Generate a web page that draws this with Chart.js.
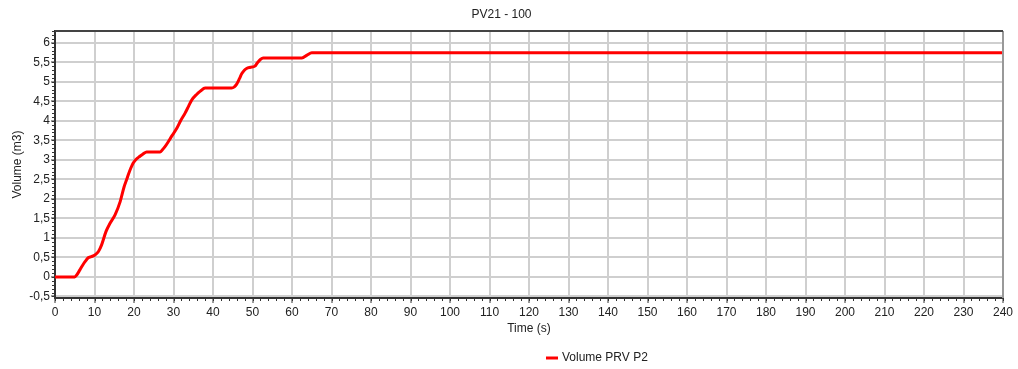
<!DOCTYPE html>
<html>
<head>
<meta charset="utf-8">
<script src="https://cdn.jsdelivr.net/npm/chart.js@4"></script>
<style>
  html, body { margin: 0; padding: 0; background: #fff; }
  #wrap { width: 1018px; height: 369px; }
</style>
</head>
<body>
<div id="wrap"><canvas id="myChart"></canvas></div>
<script>
const titleText = 'PV21 - 100';
const seriesLabel = 'Volume PRV P2';
const times = [0, 5, 5.5, 6.3, 7, 7.6, 8.4, 9.2, 10.1, 11, 11.8, 12.9, 13.9, 15.2, 16.5, 17.5, 18.1, 18.6, 19.2, 19.8,
  20.5, 21.5, 22.3, 23.2, 26.6, 27.2, 27.8, 28.6, 29.5, 30.8, 31.8, 32.9, 33.8, 34.6, 35.9, 36.8, 38, 44.7, 45.4, 46,
  46.7, 47.3, 48, 48.5, 49.5, 50.6, 51.2, 52, 52.7, 62.5, 63.8, 65, 240];
const volumes = [0, 0, 0.05, 0.18, 0.3, 0.39, 0.49, 0.52, 0.56, 0.65, 0.82, 1.16, 1.37, 1.59, 1.93, 2.31, 2.48, 2.63, 2.79, 2.92,
  3.01, 3.09, 3.15, 3.2, 3.2, 3.26, 3.33, 3.45, 3.6, 3.8, 4.0, 4.19, 4.37, 4.53, 4.68, 4.76, 4.84, 4.84, 4.87, 4.94,
  5.08, 5.21, 5.3, 5.34, 5.37, 5.4, 5.48, 5.57, 5.61, 5.61, 5.68, 5.74, 5.74];
const xTicks = [0, 10, 20, 30, 40, 50, 60, 70, 80, 90, 100, 110, 120, 130, 140, 150, 160, 170, 180, 190, 200, 210, 220, 230, 240];
const yTicks = [-0.5, 0, 0.5, 1, 1.5, 2, 2.5, 3, 3.5, 4, 4.5, 5, 5.5, 6];

const font = { family: "'Liberation Sans', Arial, sans-serif", size: 12 };

// frame on top/right + small minor tick marks, plus the legend below the axis title
const extras = {
  id: 'extras',
  afterDraw(chart) {
    const ctx = chart.ctx;
    const a = chart.chartArea;
    const xs = chart.scales.x, ys = chart.scales.y;
    ctx.save();
    ctx.lineWidth = 2;
    ctx.strokeStyle = '#999';
    ctx.beginPath(); ctx.moveTo(a.right, a.top); ctx.lineTo(a.right, a.bottom); ctx.stroke();
    ctx.strokeStyle = '#444';
    ctx.beginPath(); ctx.moveTo(a.left, a.top); ctx.lineTo(a.right, a.top); ctx.stroke();

    ctx.lineWidth = 1;
    ctx.strokeStyle = '#333';
    for (let i = -5; i <= 63; i++) {
      const py = Math.round(ys.getPixelForValue(i / 10)) + 0.5;
      ctx.beginPath(); ctx.moveTo(a.left - 3, py); ctx.lineTo(a.left, py); ctx.stroke();
    }
    for (let t = 0; t <= 240; t += 2) {
      const px = Math.round(xs.getPixelForValue(t)) + 0.5;
      ctx.beginPath(); ctx.moveTo(px, a.bottom); ctx.lineTo(px, a.bottom + 3); ctx.stroke();
    }

    const ds = chart.data.datasets[0];
    const ly = 358;
    ctx.strokeStyle = ds.borderColor;
    ctx.lineWidth = 3;
    ctx.beginPath(); ctx.moveTo(546, ly); ctx.lineTo(558, ly); ctx.stroke();
    ctx.fillStyle = '#222';
    ctx.font = font.size + 'px ' + font.family;
    ctx.textBaseline = 'middle';
    ctx.fillText(ds.label, 562, ly);
    ctx.restore();
  }
};

new Chart(document.getElementById('myChart'), {
  type: 'line',
  data: {
    datasets: [{
      label: seriesLabel,
      data: times.map((t, i) => ({ x: t, y: volumes[i] })),
      borderColor: '#ff0000',
      borderWidth: 3,
      pointRadius: 0,
      cubicInterpolationMode: 'monotone',
      fill: false
    }]
  },
  plugins: [extras],
  options: {
    responsive: true,
    maintainAspectRatio: false,
    animation: false,
    layout: { padding: { top: 0, right: 15, bottom: 29, left: 0 } },
    plugins: {
      legend: { display: false },
      tooltip: { enabled: false },
      title: {
        display: true,
        text: titleText,
        color: '#222',
        font: { ...font, weight: 'normal' },
        padding: { top: 7, bottom: 9.6 }
      }
    },
    scales: {
      x: {
        type: 'linear',
        min: 0,
        max: 240,
        afterFit: s => { s.height = 42; },
        afterBuildTicks: s => { s.ticks = xTicks.map(v => ({ value: v })); },
        ticks: { color: '#222', font, padding: 2, maxRotation: 0, autoSkip: false },
        grid: { color: '#cfcfcf', lineWidth: 2, tickLength: 5, tickColor: '#333', tickWidth: 1 },
        border: { color: '#333', width: 2 },
        title: { display: true, text: 'Time (s)', color: '#222', font, padding: { top: 0, bottom: 4 } }
      },
      y: {
        type: 'linear',
        min: -0.54,
        max: 6.3,
        afterFit: s => { s.width = 55; },
        afterBuildTicks: s => { s.ticks = yTicks.map(v => ({ value: v })); },
        ticks: {
          color: '#222', font, padding: 1,
          callback: v => String(v).replace('.', ',')
        },
        grid: { color: '#cfcfcf', lineWidth: 2, tickLength: 4, tickColor: '#333', tickWidth: 1 },
        border: { color: '#333', width: 2 },
        title: { display: true, text: 'Volume (m3)', color: '#222', font, padding: { top: 10, bottom: 0 } }
      }
    }
  }
});
</script>
</body>
</html>
